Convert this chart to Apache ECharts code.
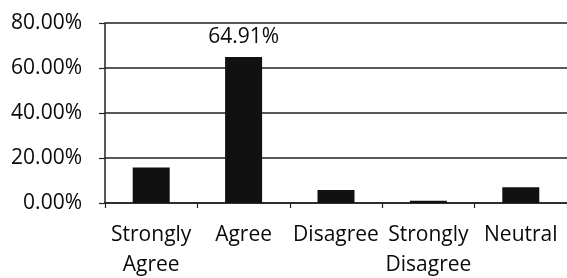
<!DOCTYPE html>
<html>
<head>
<meta charset="utf-8">
<script src="https://cdn.jsdelivr.net/npm/echarts@6/dist/echarts.min.js"></script>
<style>
html,body{margin:0;padding:0;background:#fff;}
#c{width:567px;height:278px;}
</style>
</head>
<body>
<div id="c"></div>
<script>
var categories = ["Strongly\nAgree", "Agree", "Disagree", "Strongly\nDisagree", "Neutral"];
var values = [15.79, 64.91, 5.8, 1.0, 7.02];
var labelled = [false, true, false, false, false];
var yTicks = {min: 0, max: 80, interval: 20};

var chart = echarts.init(document.getElementById('c'), null, {renderer: 'canvas'});
var font = "'Open Sans', 'Noto Sans', sans-serif";
chart.setOption({
  animation: false,
  backgroundColor: '#ffffff',
  grid: {left: 105, right: 0, top: 23, bottom: 75, containLabel: false, outerBoundsMode: 'none'},
  xAxis: {
    type: 'category',
    data: categories,
    axisLine: {show: true, lineStyle: {color: '#222', width: 1.5}},
    axisTick: {show: true, length: 5, lineStyle: {color: '#222', width: 1.2}},
    axisLabel: {color: '#0a0a0a', fontFamily: font, fontSize: 21, lineHeight: 30, margin: 17, interval: 0}
  },
  yAxis: {
    type: 'value',
    min: yTicks.min, max: yTicks.max, interval: yTicks.interval,
    axisLine: {show: true, lineStyle: {color: '#222', width: 1.5}},
    axisTick: {show: true, length: 6, lineStyle: {color: '#222', width: 1.2}},
    splitLine: {show: true, lineStyle: {color: '#222', width: 1.5}},
    axisLabel: {color: '#0a0a0a', fontFamily: font, fontSize: 21, margin: 23,
      formatter: function (v) { return v.toFixed(2) + '%'; }}
  },
  series: [{
    type: 'bar',
    data: values.map(function (v, i) {
      return {value: v, label: {show: labelled[i]}};
    }),
    barWidth: 37,
    itemStyle: {color: '#111'},
    label: {position: 'top', distance: 9, color: '#0a0a0a', fontFamily: font, fontSize: 21,
      formatter: function (p) { return p.value.toFixed(2) + '%'; }}
  }]
});
</script>
</body>
</html>
